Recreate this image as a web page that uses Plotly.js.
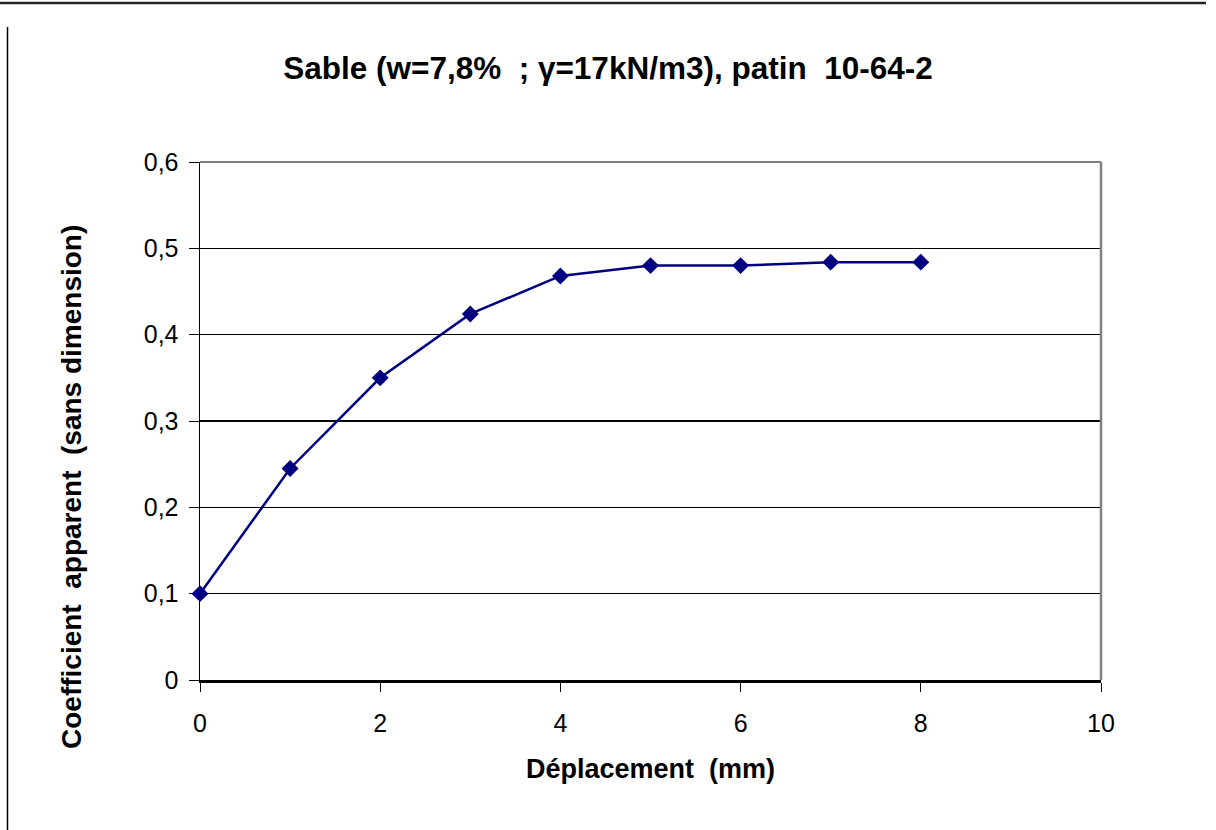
<!DOCTYPE html>
<html>
<head>
<meta charset="utf-8">
<script src="https://cdn.plot.ly/plotly-3.0.1.min.js"></script>
<style>
html,body{margin:0;padding:0;background:#fff;}
#chart{width:1216px;height:830px;}
</style>
</head>
<body>
<div id="chart"></div>
<script>
const deplacement = [0, 1, 2, 3, 4, 5, 6, 7, 8];
const coefficient = [0.100, 0.245, 0.350, 0.424, 0.468, 0.480, 0.480, 0.484, 0.484];
const xTicks = [0, 2, 4, 6, 8, 10];
const yTicks = [0, 0.1, 0.2, 0.3, 0.4, 0.5, 0.6];
const chartTitle = 'Sable (w=7,8%  ; γ=17kN/m3), patin  10-64-2';
const xTitle = 'Déplacement  (mm)';
const yTitle = 'Coefficient  apparent  (sans dimension)';

const trace = {
  x: deplacement,
  y: coefficient,
  type: 'scatter',
  mode: 'lines+markers',
  line: {color: '#000080', width: 2.5},
  marker: {symbol: 'diamond', size: 13, color: '#000080'},
  cliponaxis: false,
  hoverinfo: 'x+y'
};

// plot area: x 200..1101, y 162..680
const L = 200, R = 1101, T = 162, B = 680;
const px = v => (v - L) / (R - L);
const py = v => (B - v) / (B - T);

const layout = {
  width: 1216, height: 830,
  margin: {l: L, r: 1216 - R, t: T, b: 830 - B, pad: 0},
  paper_bgcolor: '#ffffff',
  plot_bgcolor: '#ffffff',
  separators: ', ',
  font: {family: '"Liberation Sans", Arial, sans-serif', color: '#000', size: 25},
  showlegend: false,
  title: {
    text: '<b>' + chartTitle + '</b>',
    font: {family: '"Liberation Sans", Arial, sans-serif', size: 31.5, color: '#000'},
    x: 0.5, xref: 'container', xanchor: 'center',
    y: 1 - 68/830, yref: 'container', yanchor: 'middle'
  },
  xaxis: {
    range: [0, 10],
    tickvals: xTicks,
    ticks: 'outside', ticklen: 9, tickwidth: 1, tickcolor: '#000',
    showline: true, linecolor: '#000', linewidth: 2.5,
    showgrid: false, zeroline: false,
    tickfont: {size: 25},
    ticklabelstandoff: 10,
    title: {text: '<b>' + xTitle + '</b>', font: {size: 27}, standoff: 24}
  },
  yaxis: {
    range: [0, 0.6],
    tickvals: yTicks,
    ticks: 'outside', ticklen: 10, tickwidth: 1, tickcolor: '#000',
    showline: true, linecolor: '#000', linewidth: 1.5,
    showgrid: true, gridcolor: '#000', gridwidth: 1.2,
    zeroline: false,
    tickfont: {size: 25},
    ticklabelstandoff: 5
  },
  annotations: [
    {text: '<b>' + yTitle + '</b>', textangle: -90, showarrow: false,
     xref: 'paper', yref: 'paper', x: px(71), y: py(487),
     xanchor: 'center', yanchor: 'middle', font: {size: 28}}
  ],
  shapes: [
    {type: 'line', xref: 'paper', yref: 'paper', x0: 0, x1: 1, y0: 1, y1: 1,
     line: {color: '#808080', width: 2}, layer: 'above'},
    {type: 'line', xref: 'paper', yref: 'paper', x0: 1, x1: 1, y0: 0, y1: 1,
     line: {color: '#808080', width: 2.5}, layer: 'above'},
    {type: 'line', xref: 'paper', yref: 'paper', x0: px(0), x1: px(1206), y0: py(3), y1: py(3),
     line: {color: '#222', width: 2.5}, layer: 'above'},
    {type: 'line', xref: 'paper', yref: 'paper', x0: px(7.5), x1: px(7.5), y0: py(27), y1: py(830),
     line: {color: '#000', width: 1.5}, layer: 'above'}
  ]
};

Plotly.newPlot('chart', [trace], layout, {displayModeBar: false, staticPlot: true});
</script>
</body>
</html>
